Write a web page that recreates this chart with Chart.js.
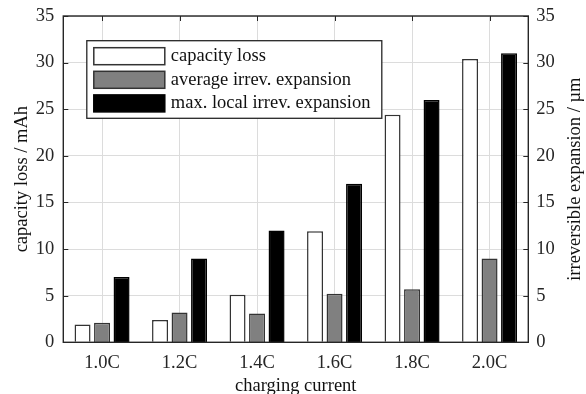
<!DOCTYPE html>
<html>
<head>
<meta charset="utf-8">
<script src="https://cdn.jsdelivr.net/npm/chart.js@4.4.1/dist/chart.umd.min.js"></script>
<style>
  html, body { margin: 0; padding: 0; background: #fff; }
  #wrap { width: 586px; height: 394px; }
</style>
</head>
<body>
<div id="wrap"><canvas id="c" width="586" height="394"></canvas></div>
<script>
// Charging-rate categories
const categories = ['1.0C', '1.2C', '1.4C', '1.6C', '1.8C', '2.0C'];
// Capacity loss in mAh (left axis)
const capacityLoss = [1.9, 2.4, 5.1, 11.9, 24.4, 30.4];
// Irreversible expansion in µm (right axis)
const avgExpansion = [2.1, 3.2, 3.1, 5.2, 5.7, 9.0];
const maxExpansion = [7.0, 9.0, 12.0, 17.0, 26.0, 31.0];
const seriesNames = ['capacity loss', 'average irrev. expansion', 'max. local irrev. expansion'];
const axisMin = 0, axisMax = 35, axisStep = 5;
const leftTitle = 'capacity loss / mAh';
const rightTitle = 'irreversible expansion / µm';
const bottomTitle = 'charging current';

const FONT = 'Liberation Serif, Times New Roman, serif';
const FONT_SIZE = 18.5;
const INK = '#262626';

// Frame, inward tick marks, legend box and right-hand title
const decor = {
  id: 'decor',
  beforeDatasetsDraw(chart) {
    const { ctx, chartArea: a } = chart;
    const ys = chart.scales.y, xs = chart.scales.x;
    ctx.save();
    ctx.strokeStyle = INK;
    ctx.lineWidth = 1;
    ctx.beginPath();
    ys.ticks.forEach(t => {
      const py = Math.round(ys.getPixelForValue(t.value)) + 0.5;
      ctx.moveTo(a.left, py); ctx.lineTo(a.left + 5, py);
      ctx.moveTo(a.right, py); ctx.lineTo(a.right - 5, py);
    });
    xs.ticks.forEach((t, i) => {
      const px = Math.round(xs.getPixelForTick(i)) + 0.5;
      ctx.moveTo(px, a.top); ctx.lineTo(px, a.top + 5);
      ctx.moveTo(px, a.bottom); ctx.lineTo(px, a.bottom - 5);
    });
    ctx.stroke();
    ctx.restore();
  },
  afterDatasetsDraw(chart) {
    const { ctx, chartArea: a } = chart;
    ctx.save();
    ctx.strokeStyle = INK;
    ctx.lineWidth = 1.4;
    ctx.strokeRect(a.left, a.top, a.right - a.left, a.bottom - a.top);

    // legend
    const lx = a.left + 23.5, ly = a.top + 24.7, lw = 295, lh = 77.6;
    ctx.fillStyle = '#fff';
    ctx.fillRect(lx, ly, lw, lh);
    ctx.lineWidth = 1.3;
    ctx.strokeStyle = INK;
    ctx.strokeRect(lx, ly, lw, lh);
    ctx.font = FONT_SIZE + 'px ' + FONT;
    ctx.textBaseline = 'middle';
    ctx.textAlign = 'left';
    chart.data.datasets.forEach((ds, i) => {
      const sy = ly + 7 + i * 23.6;
      ctx.fillStyle = ds.backgroundColor;
      ctx.fillRect(lx + 7, sy, 71, 17);
      ctx.lineWidth = 1.5;
      ctx.strokeStyle = ds.borderColor;
      ctx.strokeRect(lx + 7, sy, 71, 17);
      ctx.fillStyle = '#111';
      ctx.fillText(ds.label, lx + 84, sy + 8.5);
    });

    // right axis title, read bottom to top
    ctx.translate(575, (a.top + a.bottom) / 2);
    ctx.rotate(-Math.PI / 2);
    ctx.textAlign = 'center';
    ctx.fillStyle = '#111';
    ctx.fillText(rightTitle, 0, 0);
    ctx.restore();
  }
};

const tickFont = { family: FONT, size: FONT_SIZE };

// fixed axis band sizes so the plot area sits where it should
function fixVertical(width) {
  return s => { s.width = width; s.paddingTop = 0; s.paddingBottom = 0; };
}

new Chart(document.getElementById('c'), {
  type: 'bar',
  data: {
    labels: categories,
    datasets: [
      { label: seriesNames[0], data: capacityLoss, yAxisID: 'y',
        backgroundColor: '#ffffff', borderColor: '#333333', borderWidth: 1.5 },
      { label: seriesNames[1], data: avgExpansion, yAxisID: 'y2',
        backgroundColor: '#808080', borderColor: '#333333', borderWidth: 1.5 },
      { label: seriesNames[2], data: maxExpansion, yAxisID: 'y2',
        backgroundColor: '#000000', borderColor: '#000000', borderWidth: 1.5 }
    ]
  },
  options: {
    responsive: false,
    animation: false,
    devicePixelRatio: 1,
    categoryPercentage: 0.755,
    barPercentage: 0.82,
    layout: { padding: { top: 16, left: 0, right: 0, bottom: 0 } },
    plugins: { legend: { display: false }, tooltip: { enabled: false } },
    scales: {
      x: {
        offset: true,
        grid: { color: '#dcdcdc', lineWidth: 1, drawTicks: false, offset: false },
        border: { display: false },
        ticks: { font: tickFont, color: INK, padding: 9.5, maxRotation: 0 },
        title: { display: true, text: bottomTitle, font: tickFont, color: '#111',
                 padding: { top: 0, bottom: -3 } },
        afterFit(s) { s.height = 51.7; }
      },
      y: {
        position: 'left',
        min: axisMin, max: axisMax,
        grid: { color: '#dcdcdc', lineWidth: 1, drawTicks: false },
        border: { display: false },
        ticks: { stepSize: axisStep, font: tickFont, color: INK, padding: 9 },
        title: { display: true, text: leftTitle, font: tickFont, color: '#111',
                 padding: { top: 11, bottom: 0 } },
        afterFit: fixVertical(63.3)
      },
      y2: {
        position: 'right',
        min: axisMin, max: axisMax,
        grid: { display: false, drawTicks: false },
        border: { display: false },
        ticks: { stepSize: axisStep, font: tickFont, color: INK, padding: 8 },
        afterFit: fixVertical(57.7)
      }
    }
  },
  plugins: [decor]
});
</script>
</body>
</html>
